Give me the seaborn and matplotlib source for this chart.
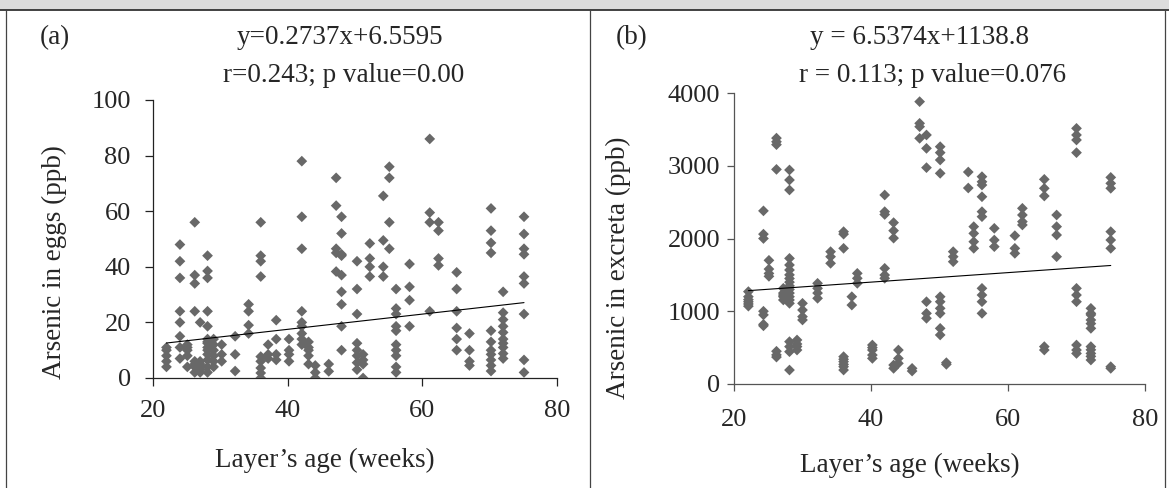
import numpy as np
import pandas as pd
import matplotlib
matplotlib.use("Agg")
import matplotlib.pyplot as plt
from matplotlib.lines import Line2D
from matplotlib.patches import Rectangle
import seaborn as sns

# panel (a): arsenic in eggs, grouped by layer age (weeks)
egg_weeks = [22.0, 24.0, 25.1, 26.2, 27.0, 28.1, 29.0, 30.2, 32.2, 34.2, 36.0, 37.1,
             38.3, 40.2, 42.1, 43.1, 44.1, 46.1, 47.2, 48.0, 50.3, 51.2, 52.2, 54.2,
             55.1, 56.1, 58.1, 61.1, 62.4, 65.1, 67.0, 70.2, 72.0, 75.1]
egg_values = [
    [4, 6, 8, 10, 11],
    [48, 42, 36, 24, 20, 15, 11, 7],
    [12, 10, 8, 4, 11],
    [56, 37, 34, 24, 6, 4, 2, 5],
    [20, 6, 4, 2, 3, 5],
    [44, 38.5, 36, 24, 18.6, 14, 12.5, 10, 8.5, 6.5, 4, 2, 13, 11],
    [14, 12, 10, 8, 6, 4],
    [12, 8.5, 6],
    [15, 8.5, 2.5],
    [26.5, 24, 19, 16],
    [56, 44, 42, 36.5, 7.7, 6, 3.6, 1.8, 0],
    [12, 8.5, 7],
    [20.8, 14, 8.5, 6.5],
    [14, 10, 8.5, 6],
    [78, 58, 46.5, 24, 20, 18.6, 16, 14, 12],
    [13, 10, 8, 5, 11],
    [4.5, 2, 0],
    [5, 2.4],
    [72, 62, 46.5, 38.3, 45],
    [58, 52, 44.5, 37, 31, 26.5, 18.6, 10, 44],
    [42, 32, 23, 12.5, 10, 8, 5.5, 3],
    [8.5, 6.5, 0, 5],
    [48.4, 43, 40, 36.5],
    [65.5, 49.5, 40, 36.5],
    [76, 72, 56, 46.5],
    [32, 25, 23, 18.6, 17, 12, 10, 8, 4, 2],
    [41, 32.8, 28, 18.6],
    [86, 59.5, 56, 24],
    [56, 53, 43, 40.5],
    [38, 32, 24, 18, 14, 10],
    [16, 10, 6, 4.5],
    [61, 53, 48.6, 45, 17, 13, 10, 8.5, 6.5, 4.5, 2.5],
    [31, 23.5, 21, 18.6, 16.4, 14, 12.5, 11, 8.8, 7],
    [58, 51.8, 46.5, 44.5, 36.5, 34, 23, 6.5, 2],
]
egg_fit = (0.2737, 6.5595)

# panel (b): arsenic in excreta
exc_weeks = [22.1, 24.3, 25.1, 26.2, 27.2, 28.1, 29.2, 30.0, 32.2, 34.1, 36.0, 37.2,
             38.0, 40.2, 42.0, 43.3, 44.0, 46.0, 47.1, 48.1, 50.1, 51.0, 52.0, 54.2,
             55.0, 56.2, 58.0, 61.0, 62.1, 65.3, 67.1, 70.0, 72.1, 75.0]
exc_values = [
    [1270, 1200, 1130, 1070, 1160, 1100],
    [2380, 2060, 2000, 1000, 950, 820, 800],
    [1700, 1580, 1520, 1480],
    [3380, 3330, 3290, 2950, 450, 400, 370],
    [1315, 1223, 1155, 1200, 1250],
    [2942, 2804, 2667, 1727, 1636, 1567, 1500, 1450, 1400, 1350, 1300, 1250,
     1200, 1155, 1109, 582, 514, 444, 192],
    [605, 514, 467, 550],
    [1109, 1017, 926, 880],
    [1384, 1315, 1250, 1178],
    [1819, 1750, 1659],
    [2094, 2060, 1865, 376, 340, 307, 270, 238, 192],
    [1200, 1085],
    [1521, 1453, 1384],
    [536, 467, 398, 352, 500],
    [2598, 2369, 2330, 1590, 1498, 1453],
    [2218, 2108, 2005, 261, 215],
    [467, 352, 284],
    [215, 178],
    [3881, 3583, 3537, 3377],
    [3423, 3239, 2974, 1131, 971, 903],
    [3262, 3180, 3079, 2896, 1200, 1131, 1040, 971, 765, 674],
    [293, 270],
    [1819, 1750, 1681],
    [2914, 2694],
    [2163, 2070, 1956, 1865],
    [2850, 2780, 2735, 2574, 2369, 2300, 1315, 1223, 1131, 971],
    [2140, 1979, 1888],
    [2039, 1865, 1796],
    [2415, 2323, 2232, 2186],
    [2813, 2690, 2584, 514, 467],
    [2323, 2163, 2048, 1750],
    [3514, 3423, 3354, 3180, 1315, 1223, 1131, 536, 467, 420],
    [1040, 971, 880, 765, 514, 420, 330, 950, 830, 470, 380],
    [2840, 2758, 2690, 2094, 1979, 1865, 238, 215],
]
exc_fit = (6.5374, 1138.8)

x_ticks = [20, 40, 60, 80]
egg_yticks = [0, 20, 40, 60, 80, 100]
exc_yticks = [0, 1000, 2000, 3000, 4000]


def to_frame(weeks, values):
    rows = [(w, v) for w, vals in zip(weeks, values) for v in vals]
    return pd.DataFrame(rows, columns=["age", "arsenic"])


sns.set_theme(style="white")
plt.rcParams["font.family"] = ["Liberation Serif", "DejaVu Serif"]

W, H = 1169, 488
fig = plt.figure(figsize=(W / 100, H / 100), dpi=100)


def px_rect(left, top, right, bottom):
    return [left / W, 1 - bottom / H, (right - left) / W, (bottom - top) / H]


def ftext(x, y, s, **kw):
    fig.text(x / W, 1 - y / H, s, ha=kw.pop("ha", "center"), va=kw.pop("va", "center"), **kw)


def draw_panel(ax, df, fit, yticks, ylim, spine_col, xpad, ypad, tlen):
    sns.scatterplot(data=df, x="age", y="arsenic", ax=ax, marker="D", s=30,
                    color="#686868", edgecolor="none", linewidth=0, zorder=3)
    xs = np.array([df["age"].min(), df["age"].max()])
    sns.lineplot(x=xs, y=fit[0] * xs + fit[1], ax=ax, color="black", lw=0.8, zorder=4)
    ax.set_xlim(20, 80)
    ax.set_ylim(*ylim)
    ax.set_xticks(x_ticks)
    ax.set_yticks(yticks)
    ax.set_xlabel("")
    ax.set_ylabel("")
    for side in ["top", "right"]:
        ax.spines[side].set_visible(False)
    for side in ["left", "bottom"]:
        ax.spines[side].set_color(spine_col)
        ax.spines[side].set_linewidth(0.9)
    ax.tick_params(axis="x", direction="out", length=tlen, width=0.9, color=spine_col,
                   labelsize=19, pad=xpad, bottom=True)
    ax.tick_params(axis="y", direction="out", length=tlen, width=0.9, color=spine_col,
                   labelsize=19, pad=ypad, left=True)
    ax.patch.set_alpha(0)


ax1 = fig.add_axes(px_rect(153, 100, 557, 378))
draw_panel(ax1, to_frame(egg_weeks, egg_values), egg_fit, egg_yticks, (0, 100),
           "#222222", 10, 10, 6)

ax2 = fig.add_axes(px_rect(734, 93, 1145, 384))
draw_panel(ax2, to_frame(exc_weeks, exc_values), exc_fit, exc_yticks, (0, 4000),
           "#555555", 13, 5, 5)

# frame: grey strip on top and panel borders
fig.patches.append(Rectangle((0, 1 - 9.5 / H), 1, 9.5 / H, transform=fig.transFigure,
                             facecolor="#dcdcdc", edgecolor="none", zorder=0))
fig.lines.append(Line2D([0, 1], [1 - 9.5 / H] * 2, transform=fig.transFigure,
                        color="#333333", lw=1.3))
for xb in [6, 590, 1165]:
    fig.lines.append(Line2D([xb / W] * 2, [0, 1 - 9.5 / H], transform=fig.transFigure,
                            color="#444444", lw=0.9))

ftext(55, 38, "(a)", fontsize=19.5)
ftext(340, 38, "y=0.2737x+6.5595", fontsize=19.5)
ftext(344, 75, "r=0.243; p value=0.00", fontsize=19.5)
ftext(325, 460, "Layer\u2019s age (weeks)", fontsize=19.5)
ftext(54, 262, "Arsenic in eggs (ppb)", fontsize=19.5, rotation=90)

ftext(632, 38, "(b)", fontsize=19.5)
ftext(919, 38, "y = 6.5374x+1138.8", fontsize=19.5)
ftext(933, 75, "r = 0.113; p value=0.076", fontsize=19.5)
ftext(910, 465, "Layer\u2019s age (weeks)", fontsize=19.5)
ftext(618, 268, "Arsenic in excreta (ppb)", fontsize=19.5, rotation=90)

fig.savefig("out.png", dpi=100, facecolor="white")
